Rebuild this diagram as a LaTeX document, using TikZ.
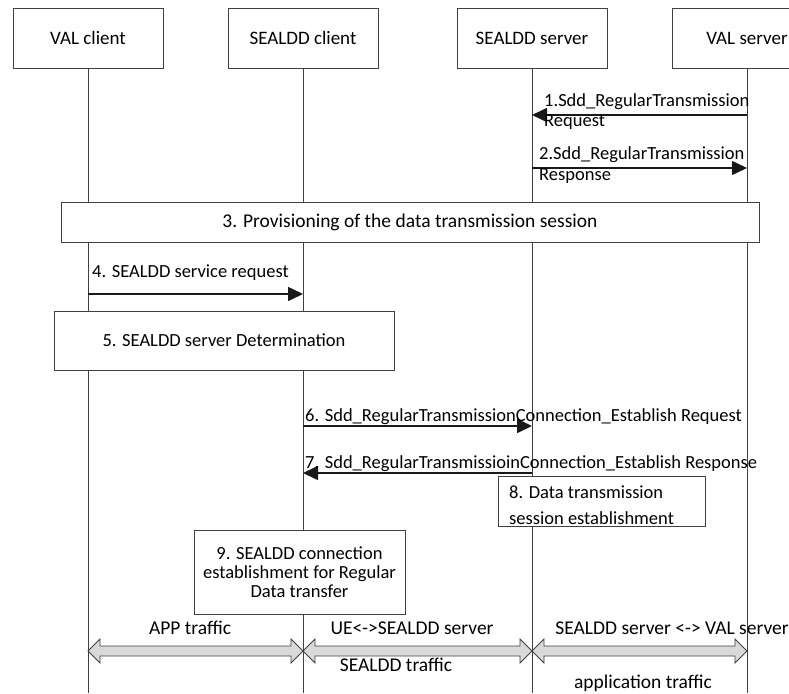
\documentclass[tikz,border=0pt]{standalone}
\usepackage{fontspec}
\setmainfont{Carlito}
\usetikzlibrary{arrows.meta,positioning,calc}
\definecolor{linegray}{HTML}{404040}
\definecolor{fatfill}{HTML}{D9D9D9}
\tikzset{
  entity/.style={draw=linegray, fill=white, line width=0.9pt, minimum width=150pt, minimum height=60pt, inner sep=0pt, font=\fontsize{19}{21}\selectfont},
  lifeline/.style={draw=linegray, line width=0.9pt},
  procbox/.style={draw=linegray, fill=white, line width=0.9pt, inner sep=0pt, font=\fontsize{18.5}{20}\selectfont},
  msg/.style={line width=1.6pt, draw=black!90, -{Triangle[length=15pt,width=14pt]}},
  lbl/.style={inner sep=0pt, anchor=west, font=\fontsize{18.5}{20}\selectfont},
  ctr/.style={inner sep=0pt, font=\fontsize{19.5}{21}\selectfont},
  fat/.style={draw=linegray, fill=fatfill, line width=0.9pt, line join=miter}
}
% fat double-headed arrow between two points on the same height
\newcommand{\fatlink}[2]{%
  \draw[fat] (#1) -- ($(#1)+(12,-12)$) -- ($(#1)+(12,-5)$) -- ($(#2)+(-12,-5)$)
    -- ($(#2)+(-12,-12)$) -- (#2) -- ($(#2)+(-12,12)$) -- ($(#2)+(-12,5)$)
    -- ($(#1)+(12,5)$) -- ($(#1)+(12,12)$) -- cycle;}
\begin{document}
\begin{tikzpicture}[x=1pt, y=-1pt]
    \useasboundingbox (0,0) rectangle (789,693);

    % entities
    \node[entity] (vc) at (88,38) {VAL client};
    \node[entity] (sc) at (303,38) {SEALDD client};
    \node[entity] (ss) at (532,38) {SEALDD server};
    \node[entity] (vs) at (747,38) {VAL server};

    % lifelines
    \foreach \e in {vc,sc,ss,vs}
        \draw[lifeline] (\e.south) -- (\e.south |- 0,693);

    % 1 and 2
    \draw[msg] (vs |- 0,115) -- (ss |- 0,115);
    \node[lbl] (m1a) at (544,102) {1.Sdd\_RegularTransmission};
    \node[lbl] (m1b) at (544,122) {Request};
    \draw[msg] (ss |- 0,168) -- (vs |- 0,168);
    \node[lbl] (m2a) at (539,155) {2.Sdd\_RegularTransmission};
    \node[lbl] (m2b) at (539,176) {Response};

    % 3
    \node[procbox, minimum width=698pt, minimum height=40pt, font=\fontsize{19.5}{21}\selectfont] (p3) at (410,222)
        {3. Provisioning of the data transmission session};

    % 4
    \draw[msg] (vc |- 0,294) -- (sc |- 0,294);
    \node[lbl] (m4) at (92,273) {4. SEALDD service request};

    % 5
    \node[procbox, minimum width=340pt, minimum height=59pt] (p5) at (224,340.5)
        {5. SEALDD server Determination};

    % 6 and 7
    \draw[msg] (sc |- 0,426) -- (ss |- 0,426);
    \node[lbl] (m6) at (305,417) {6. Sdd\_RegularTransmissionConnection\_Establish Request};
    \draw[msg] (ss |- 0,473) -- (sc |- 0,473);
    \node[lbl] (m7) at (305,464) {7. Sdd\_RegularTransmissioinConnection\_Establish Response};

    % 8
    \node[procbox, minimum width=207pt, minimum height=50pt] (p8) at (601.5,501) {};
    \node[lbl] (p8a) at (509,492) {8. Data transmission};
    \node[lbl] (p8b) at (509,518) {session establishment};

    % 9
    \node[procbox, minimum width=211pt, minimum height=84pt, align=center,
          font=\fontsize{18.5}{19}\selectfont] (p9) at (299.5,572)
        {9. SEALDD connection\\establishment for Regular\\Data transfer};

    % user plane traffic
    \coordinate (t1) at (vc |- 0,651);
    \coordinate (t2) at (sc |- 0,651);
    \coordinate (t3) at (ss |- 0,651);
    \coordinate (t4) at (vs |- 0,651);
    \fatlink{t1}{t2}
    \fatlink{t2}{t3}
    \fatlink{t3}{t4}
    \node[ctr] (a1) at (190,628) {APP traffic};
    \node[ctr] (a2) at (412,628) {UE<->SEALDD server};
    \node[ctr] (a2b) at (396,665) {SEALDD traffic};
    \node[ctr] (a3) at (672,628) {SEALDD server <-> VAL server};
    \node[ctr] (a3b) at (643,683) {application traffic};
\end{tikzpicture}
\end{document}
